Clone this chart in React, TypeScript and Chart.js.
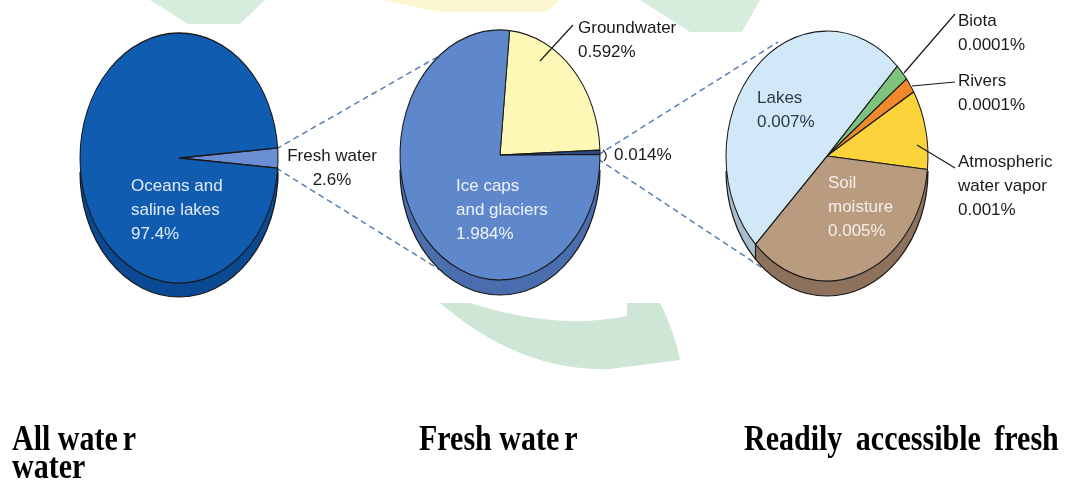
import React, { useEffect, useRef } from 'react';
import { Chart, registerables } from 'chart.js';

Chart.register(...registerables);

const W = 1069;
const H = 481;

// ---- Data: All water ----
const allWaterLabels = ['Fresh water', 'Oceans and saline lakes'];
const allWaterValues = [2.6, 97.4];
const allWaterColors = ['#6b8fd3', '#0f5cb1'];
const allWaterSides = ['#5173b3', '#0b4a93'];

// ---- Data: Fresh water ----
const freshLabels = ['Groundwater', 'Other', 'Ice caps and glaciers'];
const freshValues = [0.592, 0.014, 1.984];
const freshColors = ['#fdf8b6', '#2c4a8a', '#5f87cb'];
const freshSides = ['#d6d19a', '#24406f', '#4a6eae'];

// ---- Data: Readily accessible fresh water (slice shares as drawn) ----
const readilyLabels = ['Biota', 'Rivers', 'Atmospheric water vapor', 'Soil moisture', 'Lakes'];
const readilyShares = [2.2, 2.0, 10.3, 35.8, 49.7];
const readilyColors = ['#7fc47d', '#f0892a', '#fbd33a', '#b99b80', '#d0e8f8'];
const readilySides = ['#5f9d5e', '#c06a1f', '#c9a82d', '#8e725e', '#a9bdcc'];

// ---- Label texts ----
const oceanText = ['Oceans and', 'saline lakes', '97.4%'];
const freshWaterText = ['Fresh water', '2.6%'];
const iceText = ['Ice caps', 'and glaciers', '1.984%'];
const groundText = ['Groundwater', '0.592%'];
const otherText = ['0.014%'];
const lakesText = ['Lakes', '0.007%'];
const soilText = ['Soil', 'moisture', '0.005%'];
const biotaText = ['Biota', '0.0001%'];
const riversText = ['Rivers', '0.0001%'];
const atmoText = ['Atmospheric', 'water vapor', '0.001%'];

const pie3d = {
  id: 'pie3d',
  beforeDatasetsDraw(chart: any, _args: any, opts: any) {
    const ctx = chart.ctx as CanvasRenderingContext2D;
    const arcs = chart.getDatasetMeta(0).data as any[];
    if (!arcs.length) return;
    const { x, y, outerRadius: R } = arcs[0].getProps(['x', 'y', 'outerRadius'], true);
    const k = opts.k as number;
    const depth = opts.depth as number;
    const sides = opts.sideColors as string[];
    const ends = arcs.map((a) => a.getProps(['startAngle', 'endAngle'], true));
    for (let d = depth; d >= 1; d--) {
      ctx.save();
      ctx.translate(x, y + d);
      ctx.scale(1, k);
      ctx.translate(-x, -y);
      ends.forEach((p: any, i: number) => {
        ctx.beginPath();
        ctx.moveTo(x, y);
        ctx.arc(x, y, R, p.startAngle, p.endAngle);
        ctx.closePath();
        ctx.fillStyle = sides[i];
        ctx.fill();
      });
      ctx.restore();
    }
    ctx.save();
    ctx.save();
    ctx.translate(x, y + depth);
    ctx.scale(1, k);
    ctx.translate(-x, -y);
    ctx.beginPath();
    ctx.arc(x, y, R, 0, Math.PI);
    ctx.restore();
    ctx.lineWidth = 1.2;
    ctx.strokeStyle = '#1a1a1a';
    ctx.stroke();
    ends.forEach((p: any) => {
      const a = p.startAngle;
      const s = Math.sin(a);
      if (s > 0.05) {
        const px = x + R * Math.cos(a);
        const py = y + R * k * s;
        ctx.beginPath();
        ctx.moveTo(px, py);
        ctx.lineTo(px, py + depth);
        ctx.stroke();
      }
    });
    ctx.restore();
    ctx.save();
    ctx.translate(x, y);
    ctx.scale(1, k);
    ctx.translate(-x, -y);
  },
  afterDatasetsDraw(chart: any) {
    chart.ctx.restore();
  },
};

type PieGeom = { cx: number; cy: number; rx: number; ry: number; depth: number; rotation: number };

function makePie(
  canvas: HTMLCanvasElement,
  labels: string[],
  values: number[],
  colors: string[],
  sides: string[],
  g: PieGeom
) {
  const box = g.rx + 30;
  return new Chart(canvas, {
    type: 'pie',
    data: {
      labels,
      datasets: [
        {
          data: values,
          backgroundColor: colors,
          borderColor: '#1a1a1a',
          borderWidth: 1,
          radius: g.rx,
          rotation: g.rotation,
        } as any,
      ],
    },
    options: {
      responsive: false,
      maintainAspectRatio: false,
      animation: false,
      events: [],
      rotation: g.rotation,
      layout: {
        padding: {
          left: g.cx - box,
          right: W - (g.cx + box),
          top: g.cy - box,
          bottom: H - (g.cy + box),
        },
      },
      plugins: {
        legend: { display: false },
        tooltip: { enabled: false },
        pie3d: { k: g.ry / g.rx, depth: g.depth, sideColors: sides },
      } as any,
    },
    plugins: [pie3d],
  });
}

const txtBase: React.CSSProperties = {
  position: 'absolute',
  fontFamily: '"Liberation Sans", Arial, Helvetica, sans-serif',
  fontSize: 17,
  lineHeight: '24px',
  whiteSpace: 'nowrap',
  color: '#1a1a1a',
};

function Label({ lines, left, capTop, color, align, width }: { lines: string[]; left: number; capTop: number; color?: string; align?: 'left' | 'center'; width?: number }) {
  return (
    <div style={{ ...txtBase, left, top: capTop - 6, color: color || '#1a1a1a', textAlign: align || 'left', width }}>
      {lines.map((l, i) => (
        <div key={i}>{l}</div>
      ))}
    </div>
  );
}

const titleStyle: React.CSSProperties = {
  position: 'absolute',
  fontFamily: '"Liberation Serif", "Times New Roman", serif',
  fontWeight: 'bold',
  fontSize: 30,
  lineHeight: '23.3px',
  color: '#000',
  whiteSpace: 'nowrap',
  transform: 'scaleY(1.2)',
  transformOrigin: 'top left',
};

export default function App() {
  const c1 = useRef<HTMLCanvasElement>(null);
  const c2 = useRef<HTMLCanvasElement>(null);
  const c3 = useRef<HTMLCanvasElement>(null);

  useEffect(() => {
    const charts: Chart[] = [];
    if (c1.current)
      charts.push(
        makePie(c1.current, allWaterLabels, allWaterValues, allWaterColors, allWaterSides, {
          cx: 179, cy: 158, rx: 99, ry: 125, depth: 14, rotation: 85.3,
        })
      );
    if (c2.current)
      charts.push(
        makePie(c2.current, freshLabels, freshValues, freshColors, freshSides, {
          cx: 500, cy: 155, rx: 100, ry: 125, depth: 15, rotation: 5.5,
        })
      );
    if (c3.current)
      charts.push(
        makePie(c3.current, readilyLabels, readilyShares, readilyColors, readilySides, {
          cx: 827, cy: 156, rx: 101, ry: 125, depth: 15, rotation: 44,
        })
      );
    return () => charts.forEach((c) => c.destroy());
  }, []);

  const canvasStyle: React.CSSProperties = { position: 'absolute', left: 0, top: 0 };

  return (
    <div style={{ position: 'absolute', left: 0, top: 0, width: W, height: H, background: '#fff', overflow: 'hidden' }}>
      {/* faint watermark background */}
      <svg width={W} height={H} style={{ position: 'absolute', left: 0, top: 0 }}>
        <polygon points="150,0 265,0 240,24 188,24" fill="#d6ecdd" />
        <polygon points="382,0 560,0 545,12 440,12" fill="#fbf6cf" />
        <polygon points="640,0 760,0 742,32 690,32" fill="#d6ecdd" />
        <path d="M 440 303 Q 520 372 610 369 L 680 360 Q 674 330 660 303 L 627 303 L 627 316 Q 560 330 480 306 L 470 303 Z" fill="#cfe5d6" />
        {/* dashed connectors */}
        <g stroke="#5b7fb3" strokeWidth={1.5} strokeDasharray="6 4" fill="none">
          <line x1={276} y1={149} x2={446} y2={52} />
          <line x1={276} y1={168} x2={445} y2={273} />
          <line x1={598} y1={155} x2={778} y2={42} />
          <line x1={598} y1={159} x2={770} y2={273} />
        </g>
      </svg>
      <canvas ref={c1} width={W} height={H} style={canvasStyle} />
      <canvas ref={c2} width={W} height={H} style={canvasStyle} />
      <canvas ref={c3} width={W} height={H} style={canvasStyle} />
      {/* leader lines */}
      <svg width={W} height={H} style={{ position: 'absolute', left: 0, top: 0, pointerEvents: 'none' }}>
        <g stroke="#1a1a1a" strokeWidth={1.2} fill="none">
          <line x1={540} y1={61} x2={573} y2={25} />
          <path d="M 603 150 Q 609 155 604 161" />
          <line x1={904} y1={73} x2={955} y2={14} />
          <line x1={912} y1={86} x2={955} y2={82} />
          <line x1={917} y1={145} x2={955} y2={168} />
        </g>
      </svg>
      <Label lines={oceanText} left={131} capTop={180} color="#e2ebf7" />
      <Label lines={freshWaterText} left={285} capTop={150} align="center" width={94} />
      <Label lines={iceText} left={456} capTop={180} color="#eef3fb" />
      <Label lines={groundText} left={578} capTop={22} />
      <Label lines={otherText} left={614} capTop={149} />
      <Label lines={lakesText} left={757} capTop={92} color="#2e3a44" />
      <Label lines={soilText} left={828} capTop={177} color="#f6efe8" />
      <Label lines={biotaText} left={958} capTop={15} />
      <Label lines={riversText} left={958} capTop={75} />
      <Label lines={atmoText} left={958} capTop={156} />
      <div style={{ ...titleStyle, left: 12, top: 424 }}>
        <div>All wate<span style={{ marginLeft: 5 }}>r</span></div>
        <div>water</div>
      </div>
      <div style={{ ...titleStyle, left: 419, top: 424 }}>
        Fresh wate<span style={{ marginLeft: 5 }}>r</span>
      </div>
      <div style={{ ...titleStyle, left: 744, top: 424, wordSpacing: 6 }}>Readily accessible fresh</div>
    </div>
  );
}
